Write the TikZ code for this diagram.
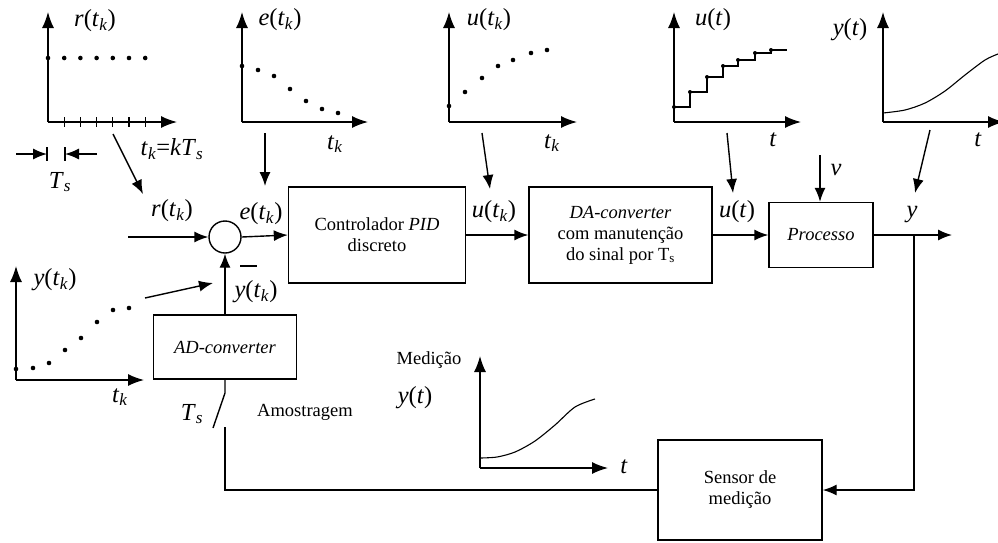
\documentclass[tikz,border=0pt]{standalone}
\usepackage{fontspec}
\setmainfont{Liberation Serif}
\usetikzlibrary{arrows.meta}

\newcommand{\siglab}{\fontsize{24.5}{26}\selectfont}
\newcommand{\boxtxt}{\fontsize{18.5}{21}\selectfont}
\newcommand{\sigk}[1]{\textit{#1}(\textit{t}\textsubscript{\textit{k}})}
\newcommand{\sigt}[1]{\textit{#1}(\textit{t})}

\begin{document}
\begin{tikzpicture}[x=1pt,y=-1pt,line width=1.4pt,
  blk/.style={draw,font=\boxtxt,align=center,inner sep=0pt},
  sig/.style={-{Latex[length=14pt,width=11pt]}},
  ax/.style={-{Latex[length=16pt,width=12pt]}},
  lab/.style={font=\siglab,inner sep=0pt},
  txt/.style={font=\boxtxt,inner sep=0pt}]
\useasboundingbox (0,0) rectangle (998,542);

% blocks of the loop
\node[circle,draw,minimum size=32pt,inner sep=0pt] (sum) at (225,237) {};
\node[blk,minimum width=177pt,minimum height=96pt] (pid) at (377,235)
  {Controlador \textit{PID}\\discreto};
\node[blk,minimum width=183pt,minimum height=96pt] (da) at (620.5,235)
  {\textit{DA-converter}\\com manutenção\\do sinal por T\textsubscript{s}};
\node[blk,minimum width=104pt,minimum height=65pt] (proc) at (821,235)
  {\textit{Processo}};
\node[blk,minimum width=143pt,minimum height=64pt] (ad) at (225,347)
  {\textit{AD-converter}};
\node[blk,minimum width=164pt,minimum height=100pt] (sens) at (740,490)
  {Sensor de\\medição};

% signals
\coordinate (rin) at (128,237);
\coordinate (yout) at (952,236);
\coordinate (br) at (914,236);
\coordinate (swt) at (225,393);
\coordinate (swa) at (213,428);
\coordinate (swb) at (225,427);
\draw[sig] (rin) -- (sum.west);
\draw[sig] (sum.east) -- (pid.west);
\draw[sig] (pid.east) -- (da.west);
\draw[sig] (da.east) -- (da.east -| proc.west);
\draw[sig] (proc.east) -- (proc.east -| yout);
\draw[sig] (br) |- (sens.east);
\draw (sens.west) -| (swb);
\draw (ad.south) -- (swt) -- (swa);
\draw[sig] (ad.north) -- (sum.south);
\draw (240,266) -- (257,266);
\draw[sig] (820,155) -- (proc.north -| 820,0);

\node[lab] (lr) at (172,211) {\sigk{r}};
\node[lab] (le) at (261,214) {\sigk{e}};
\node[lab] (lu) at (494,212) {\sigk{u}};
\node[lab] (lut) at (737,212) {\sigt{u}};
\node[lab] (ly) at (912,215) {\textit{y}};
\node[lab] (lv) at (836,170) {\textit{v}};
\node[lab] (lyk) at (256,292) {\sigk{y}};
\node[lab] (lts) at (192,414) {\textit{T}\textsubscript{\textit{s}}};
\node[txt] (amo) at (305,412) {Amostragem};

% r(t_k)
\coordinate (rO) at (48,122);
\draw[ax] (rO) -- (48,12);
\draw[ax] (rO) -- (177,122);
\foreach \i in {0,...,6} \fill (48+16.2*\i,58) circle (2.3);
\foreach \i in {1,...,6} \draw[line width=1.1pt] (48+16.2*\i,117) -- ++(0,10);
\node[lab] at (95,21) {\sigk{r}};
\node[lab] at (172,149) {\textit{t}\textsubscript{\textit{k}}=\textit{kT}\textsubscript{\textit{s}}};
\draw[sig] (16,154) -- (47,154);
\draw[sig] (97,154) -- (65,154);
\draw[line width=1.1pt] (47,147) -- (47,161) (65,147) -- (65,161);
\node[lab] at (60,182) {\textit{T}\textsubscript{\textit{s}}};
\draw[sig] (113,134) -- (143,194);

% e(t_k)
\coordinate (eO) at (242,122);
\draw[ax] (eO) -- (242,12);
\draw[ax] (eO) -- (368,122);
\foreach \p in {(242,66),(258,70),(274,76),(290,89),(306,101),(322,109),(338,113)}
  \fill \p circle (2.3);
\node[lab] at (280,20) {\sigk{e}};
\node[lab] at (335,144) {\textit{t}\textsubscript{\textit{k}}};
\draw[sig] (265,133) -- (265,186);

% u(t_k)
\coordinate (uO) at (449,122);
\draw[ax] (uO) -- (449,12);
\draw[ax] (uO) -- (577,122);
\foreach \p in {(449,106),(465,92),(482,78),(498,66),(513,60),(531,53),(547,50)}
  \fill \p circle (2.3);
\node[lab] at (489,20) {\sigk{u}};
\node[lab] at (552,143) {\textit{t}\textsubscript{\textit{k}}};
\draw[sig] (482,133) -- (490,189);

% u(t)
\coordinate (utO) at (674,122);
\draw[ax] (utO) -- (674,12);
\draw[ax] (utO) -- (801,122);
\draw[line width=1.1pt] (674,107) -- (690,107) -- (690,92) -- (707,92) -- (707,77) -- (723,77)
  -- (723,66) -- (738,66) -- (738,60) -- (755,60) -- (755,53) -- (771,53) -- (771,50) -- (787,50);
\foreach \p in {(674,107),(690,92),(707,77),(723,66),(738,60),(755,53),(771,50)}
  \fill \p circle (2);
\node[lab] at (713,20) {\sigt{u}};
\node[lab] at (773,140) {\textit{t}};
\draw[sig] (727,133) -- (733,193);

% y(t)
\coordinate (ytO) at (883,122);
\draw[ax] (ytO) -- (883,12);
\draw[ax] (ytO) -- (1004,122);
\draw[line width=1.1pt] plot[smooth] coordinates {(883,113) (905,110) (925,103) (945,91) (965,75) (985,60) (998,54)};
\node[lab] at (850,30) {\sigt{y}};
\node[lab] at (978,140) {\textit{t}};
\draw[sig] (930,130) -- (915,193);

% y(t_k) sampled
\coordinate (ykO) at (16,380);
\draw[ax] (ykO) -- (16,266);
\draw[ax] (ykO) -- (144,380);
\foreach \p in {(16,369),(33,368),(49,363),(65,350),(81,338),(97,322),(113,310),(129,308)}
  \fill \p circle (2.3);
\node[lab] at (55,280) {\sigk{y}};
\node[lab] at (120,397) {\textit{t}\textsubscript{\textit{k}}};
\draw[sig] (145,298) -- (213,283);

% medição
\coordinate (mO) at (480,468);
\draw[ax] (mO) -- (480,356);
\draw[ax] (mO) -- (608,468);
\draw[line width=1.1pt] plot[smooth] coordinates {(480,458) (497,457) (515,452) (535,441) (555,425) (575,407) (595,399)};
\node[txt] at (429,360) {Medição};
\node[lab] at (415,398) {\sigt{y}};
\node[lab] at (624,467) {\textit{t}};
\end{tikzpicture}
\end{document}
